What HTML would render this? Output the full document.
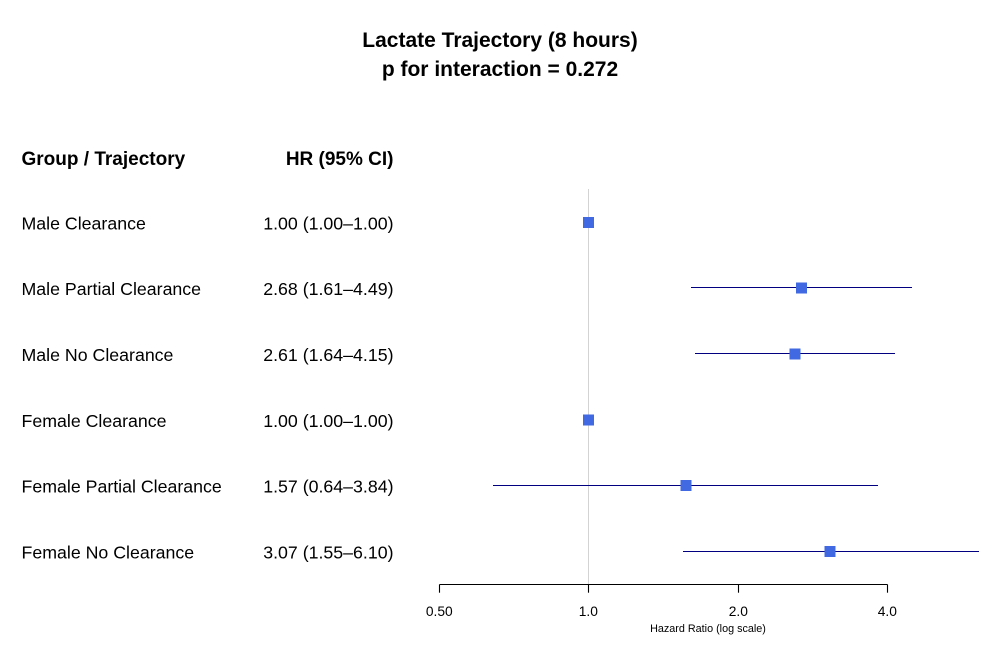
<!DOCTYPE html>
<html>
<head>
<meta charset="utf-8">
<style>
  html, body { margin:0; padding:0; background:#ffffff; }
  svg { display:block; }
  text { font-family: "Liberation Sans", Arial, sans-serif; fill:#000; }
</style>
</head>
<body>
<svg width="1000" height="660" viewBox="0 0 1000 660" xmlns="http://www.w3.org/2000/svg">
  <rect width="1000" height="660" fill="#ffffff"/>

  <!-- Title -->
  <text x="500" y="47" font-size="21" font-weight="bold" text-anchor="middle">Lactate Trajectory (8 hours)</text>
  <text x="500" y="76" font-size="21" font-weight="bold" text-anchor="middle">p for interaction = 0.272</text>

  <!-- Headers -->
  <text x="21.5" y="165" font-size="19" font-weight="bold">Group / Trajectory</text>
  <text x="393.5" y="165" font-size="19" font-weight="bold" text-anchor="end">HR (95% CI)</text>

  <!-- Row labels -->
  <g font-size="17.75">
    <text x="21.5" y="229.5">Male Clearance</text>
    <text x="21.5" y="295.2">Male Partial Clearance</text>
    <text x="21.5" y="361">Male No Clearance</text>
    <text x="21.5" y="426.8">Female Clearance</text>
    <text x="21.5" y="492.7">Female Partial Clearance</text>
    <text x="21.5" y="558.5">Female No Clearance</text>

    <text x="393.5" y="229.5" text-anchor="end">1.00 (1.00–1.00)</text>
    <text x="393.5" y="295.2" text-anchor="end">2.68 (1.61–4.49)</text>
    <text x="393.5" y="361" text-anchor="end">2.61 (1.64–4.15)</text>
    <text x="393.5" y="426.8" text-anchor="end">1.00 (1.00–1.00)</text>
    <text x="393.5" y="492.7" text-anchor="end">1.57 (0.64–3.84)</text>
    <text x="393.5" y="558.5" text-anchor="end">3.07 (1.55–6.10)</text>
  </g>

  <!-- Reference line at HR = 1 -->
  <line x1="588.5" y1="189" x2="588.5" y2="584" stroke="#d3d3d3" stroke-width="1"/>

  <!-- CI lines -->
  <g stroke="#000080" stroke-width="1">
    <line x1="691" y1="287.5" x2="912" y2="287.5"/>
    <line x1="695" y1="353.5" x2="895" y2="353.5"/>
    <line x1="493" y1="485.5" x2="878" y2="485.5"/>
    <line x1="683" y1="551.5" x2="979" y2="551.5"/>
  </g>

  <!-- Point estimates -->
  <g fill="#4169e1">
    <rect x="583" y="217" width="11" height="11"/>
    <rect x="796" y="282.5" width="11" height="11"/>
    <rect x="789.5" y="348.5" width="11" height="11"/>
    <rect x="583" y="414.5" width="11" height="11"/>
    <rect x="680.5" y="480" width="11" height="11"/>
    <rect x="824.5" y="546" width="11" height="11"/>
  </g>

  <!-- X axis -->
  <g stroke="#000" stroke-width="1.1">
    <line x1="439.5" y1="584.5" x2="887.5" y2="584.5"/>
    <line x1="439.5" y1="584.5" x2="439.5" y2="592.7"/>
    <line x1="588.5" y1="584.5" x2="588.5" y2="592.7"/>
    <line x1="738.5" y1="584.5" x2="738.5" y2="592.7"/>
    <line x1="887.5" y1="584.5" x2="887.5" y2="592.7"/>
  </g>
  <g font-size="13.8" text-anchor="middle">
    <text x="439.3" y="616">0.50</text>
    <text x="588.3" y="616">1.0</text>
    <text x="738.3" y="616">2.0</text>
    <text x="887.3" y="616">4.0</text>
  </g>
  <text x="708" y="632" font-size="10.8" text-anchor="middle">Hazard Ratio (log scale)</text>
</svg>
</body>
</html>
